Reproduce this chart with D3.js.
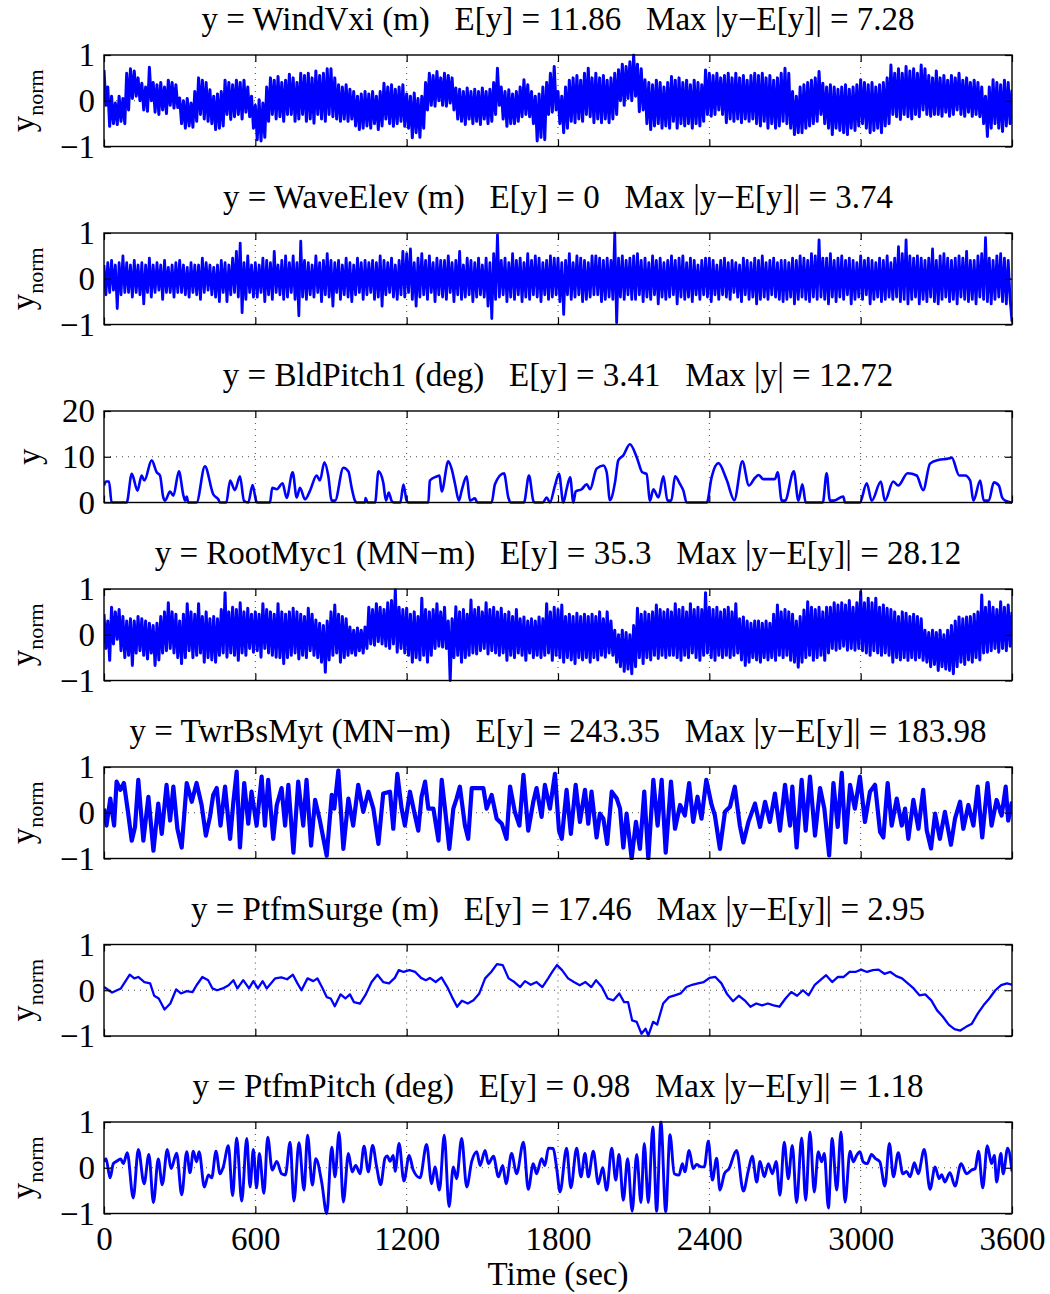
<!DOCTYPE html>
<html><head><meta charset="utf-8">
<script src="https://cdn.jsdelivr.net/npm/d3@7"></script>
<style>
body{margin:0;background:#fff}
svg{display:block}
text{font-family:"Liberation Serif","Times New Roman",serif;fill:#000}
</style>
</head><body>
<svg id="c" width="1050" height="1294"></svg>
<script>
// ---------------- DATA ----------------
const xTicks = [0, 600, 1200, 1800, 2400, 3000, 3600];
const normTicks = [-1, 0, 1];
const bldTicks = [0, 10, 20];
const titles = [
  "y = WindVxi (m)   E[y] = 11.86   Max |y\u2212E[y]| = 7.28",
  "y = WaveElev (m)   E[y] = 0   Max |y\u2212E[y]| = 3.74",
  "y = BldPitch1 (deg)   E[y] = 3.41   Max |y| = 12.72",
  "y = RootMyc1 (MN\u2212m)   E[y] = 35.3   Max |y\u2212E[y]| = 28.12",
  "y = TwrBsMyt (MN\u2212m)   E[y] = 243.35   Max |y\u2212E[y]| = 183.98",
  "y = PtfmSurge (m)   E[y] = 17.46   Max |y\u2212E[y]| = 2.95",
  "y = PtfmPitch (deg)   E[y] = 0.98   Max |y\u2212E[y]| = 1.18"
];
const xLabel = "Time (sec)";

// WindVxi, normalised, sampled every 7.5 s (0..3600): alternating local high / low
const windV = [
0.67,-0.1,0.3,-0.56,0.1,-0.5,-0.05,-0.52,0.1,-0.45,0.05,-0.5,0.6,-0.2,0.7,0.05,0.65,0.1,0.5,0.0,
0.38,-0.2,0.3,-0.23,0.73,0.0,0.4,-0.25,0.35,-0.3,0.4,-0.2,0.3,-0.28,0.45,-0.1,0.4,-0.16,0.35,-0.15,
0.06,-0.5,0.0,-0.6,0.05,-0.55,-0.05,-0.58,0.2,-0.45,0.5,-0.3,0.45,-0.4,0.4,-0.45,0.24,-0.5,0.1,-0.63,
0.15,-0.6,0.2,-0.55,0.45,-0.3,0.4,-0.41,0.35,-0.35,0.45,-0.3,0.4,-0.4,0.45,-0.25,0.3,-0.35,0.1,-0.6,
-0.1,-0.85,0.02,-0.88,-0.05,-0.8,0.3,-0.45,0.5,-0.3,0.45,-0.4,0.53,-0.35,0.4,-0.45,0.45,-0.3,0.58,-0.3,
0.5,-0.45,0.4,-0.4,0.6,-0.3,0.55,-0.45,0.6,-0.4,0.5,-0.49,0.65,-0.3,0.55,-0.4,0.6,-0.45,0.7,-0.3,
0.7,-0.35,0.5,-0.4,0.35,-0.45,0.3,-0.4,0.35,-0.45,0.25,-0.4,0.2,-0.55,0.1,-0.63,0.15,-0.6,0.2,-0.55,
0.15,-0.6,0.2,-0.5,0.1,-0.63,0.2,-0.55,0.38,-0.4,0.3,-0.5,0.35,-0.56,0.25,-0.5,0.3,-0.45,0.35,-0.56,
0.15,-0.6,0.1,-0.81,0.17,-0.7,0.05,-0.8,0.1,-0.6,0.4,-0.2,0.6,-0.1,0.55,-0.12,0.64,0.0,0.5,-0.1,
0.6,-0.12,0.55,-0.05,0.5,-0.2,0.28,-0.4,0.25,-0.45,0.2,-0.52,0.28,-0.4,0.2,-0.5,0.25,-0.45,0.2,-0.52,
0.28,-0.4,0.2,-0.5,0.25,-0.45,0.4,-0.3,0.71,-0.1,0.3,-0.4,0.2,-0.56,0.24,-0.5,0.15,-0.5,0.2,-0.45,
0.3,-0.35,0.46,-0.3,0.35,-0.35,0.2,-0.5,0.1,-0.88,0.15,-0.8,0.3,-0.85,0.4,-0.3,0.6,-0.25,0.75,-0.2,
0.2,-0.5,0.1,-0.7,0.3,-0.6,0.45,-0.45,0.5,-0.48,0.55,-0.4,0.45,-0.45,0.6,-0.3,0.71,-0.35,0.5,-0.48,
0.6,-0.4,0.5,-0.48,0.55,-0.4,0.45,-0.48,0.5,-0.4,0.6,-0.3,0.68,0.0,0.8,-0.1,0.75,0.05,0.85,0.0,
1.0,0.1,0.8,-0.24,0.7,-0.2,0.46,-0.5,0.4,-0.63,0.35,-0.55,0.45,-0.5,0.4,-0.6,0.3,-0.55,0.4,-0.6,
0.53,-0.45,0.45,-0.6,0.5,-0.5,0.4,-0.55,0.45,-0.5,0.35,-0.6,0.45,-0.5,0.4,-0.55,0.35,-0.45,0.67,-0.3,
0.6,-0.34,0.55,-0.3,0.6,-0.2,0.5,-0.3,0.55,-0.48,0.6,-0.4,0.5,-0.45,0.6,-0.4,0.5,-0.48,0.55,-0.4,
0.45,-0.45,0.55,-0.4,0.6,-0.5,0.55,-0.55,0.6,-0.45,0.5,-0.6,0.55,-0.5,0.45,-0.6,0.5,-0.55,0.6,-0.45,
0.71,-0.5,0.6,-0.6,0.2,-0.74,0.1,-0.7,0.3,-0.7,0.35,-0.6,0.4,-0.55,0.45,-0.5,0.5,-0.45,0.64,-0.3,
0.38,-0.5,0.3,-0.6,0.35,-0.74,0.3,-0.6,0.25,-0.65,0.3,-0.7,0.35,-0.74,0.25,-0.6,0.3,-0.65,0.35,-0.55,
0.46,-0.5,0.4,-0.6,0.35,-0.7,0.4,-0.65,0.3,-0.6,0.35,-0.7,0.4,-0.55,0.5,-0.5,0.78,-0.3,0.6,-0.35,
0.7,-0.41,0.6,-0.3,0.75,-0.35,0.65,-0.4,0.7,-0.3,0.6,-0.35,0.78,-0.2,0.7,-0.3,0.55,-0.34,0.5,-0.3,
0.65,-0.3,0.5,-0.34,0.55,-0.25,0.45,-0.34,0.55,-0.3,0.5,-0.2,0.6,-0.3,0.45,-0.34,0.5,-0.25,0.4,-0.34,
0.45,-0.3,0.4,-0.35,0.3,-0.5,0.1,-0.78,0.3,-0.6,0.46,-0.5,0.4,-0.6,0.35,-0.67,0.45,-0.55,0.4,-0.5,
0.24];

// WaveElev, normalised, sampled every 7.5 s
const waveV = [
0.3,-0.35,0.35,-0.3,0.4,-0.25,0.3,-0.65,0.35,-0.35,0.5,-0.3,0.35,-0.3,0.3,-0.4,0.4,-0.3,0.3,-0.35,
0.35,-0.55,0.3,-0.3,0.45,-0.4,0.3,-0.3,0.35,-0.25,0.3,-0.45,0.4,-0.3,0.25,-0.3,0.3,-0.4,0.35,-0.3,
0.4,-0.3,0.3,-0.35,0.25,-0.4,0.35,-0.3,0.3,-0.35,0.3,-0.45,0.45,-0.3,0.35,-0.25,0.3,-0.35,0.25,-0.4,
0.3,-0.5,0.4,-0.3,0.35,-0.5,0.3,-0.35,0.45,-0.3,0.6,-0.4,0.78,-0.74,0.35,-0.45,0.5,-0.3,0.3,-0.4,
0.35,-0.4,0.3,-0.3,0.45,-0.5,0.4,-0.35,0.35,-0.45,0.6,-0.3,0.3,-0.35,0.4,-0.45,0.5,-0.4,0.35,-0.3,
0.5,-0.45,0.35,-0.81,0.82,-0.4,0.4,-0.45,0.35,-0.35,0.3,-0.4,0.5,-0.3,0.35,-0.5,0.4,-0.35,0.55,-0.4,
0.4,-0.6,0.35,-0.3,0.4,-0.45,0.3,-0.35,0.45,-0.4,0.35,-0.5,0.3,-0.35,0.45,-0.3,0.35,-0.45,0.4,-0.35,
0.35,-0.3,0.4,-0.45,0.35,-0.4,0.5,-0.6,0.4,-0.35,0.35,-0.3,0.45,-0.4,0.3,-0.45,0.4,-0.35,0.6,-0.4,
0.55,-0.3,0.65,-0.45,0.35,-0.6,0.45,-0.4,0.55,-0.35,0.4,-0.45,0.5,-0.3,0.35,-0.5,0.45,-0.35,0.4,-0.4,
0.4,-0.45,0.5,-0.3,0.35,-0.5,0.4,-0.35,0.6,-0.45,0.3,-0.4,0.45,-0.35,0.4,-0.5,0.35,-0.4,0.45,-0.35,
0.3,-0.4,0.45,-0.6,0.35,-0.87,0.55,-0.45,0.96,-0.4,0.4,-0.35,0.45,-0.5,0.35,-0.4,0.55,-0.45,0.4,-0.35,
0.45,-0.5,0.35,-0.4,0.55,-0.45,0.4,-0.35,0.5,-0.4,0.45,-0.5,0.35,-0.35,0.4,-0.45,0.5,-0.4,0.45,-0.35,
0.45,-0.5,0.35,-0.78,0.4,-0.35,0.55,-0.45,0.35,-0.4,0.5,-0.35,0.45,-0.5,0.4,-0.45,0.35,-0.4,0.5,-0.35,
0.5,-0.35,0.45,-0.5,0.4,-0.45,0.45,-0.4,0.4,-0.45,1.0,-0.96,0.45,-0.4,0.5,-0.45,0.4,-0.35,0.45,-0.45,
0.5,-0.45,0.55,-0.35,0.4,-0.5,0.45,-0.4,0.35,-0.45,0.5,-0.35,0.4,-0.55,0.45,-0.4,0.35,-0.45,0.4,-0.4,
0.5,-0.35,0.4,-0.55,0.45,-0.4,0.5,-0.45,0.35,-0.4,0.45,-0.5,0.4,-0.35,0.3,-0.45,0.4,-0.35,0.45,-0.4,
0.45,-0.5,0.4,-0.35,0.3,-0.45,0.4,-0.35,0.45,-0.4,0.35,-0.45,0.4,-0.3,0.35,-0.4,0.3,-0.5,0.45,-0.35,
0.4,-0.45,0.35,-0.4,0.45,-0.55,0.4,-0.45,0.5,-0.4,0.35,-0.45,0.4,-0.35,0.45,-0.4,0.35,-0.45,0.4,-0.5,
0.4,-0.45,0.35,-0.4,0.45,-0.55,0.4,-0.45,0.5,-0.4,0.45,-0.45,0.4,-0.5,0.55,-0.4,0.5,-0.45,0.85,-0.4,
0.45,-0.45,0.45,-0.55,0.55,-0.4,0.4,-0.5,0.45,-0.4,0.5,-0.45,0.4,-0.35,0.45,-0.55,0.4,-0.45,0.35,-0.4,
0.5,-0.45,0.4,-0.35,0.45,-0.55,0.4,-0.45,0.35,-0.4,0.45,-0.5,0.4,-0.45,0.5,-0.4,0.35,-0.45,0.45,-0.4,
0.7,-0.5,0.55,-0.45,0.85,-0.55,0.5,-0.45,0.45,-0.4,0.5,-0.55,0.45,-0.45,0.4,-0.5,0.45,-0.4,0.65,-0.5,
0.4,-0.55,0.5,-0.45,0.55,-0.4,0.45,-0.5,0.4,-0.45,0.45,-0.55,0.5,-0.4,0.45,-0.45,0.6,-0.5,0.4,-0.45,
0.4,-0.55,0.5,-0.4,0.55,-0.45,0.9,-0.5,0.45,-0.55,0.4,-0.45,0.5,-0.4,0.55,-0.5,0.45,-0.55,0.4,-0.45,
-0.94];

// BldPitch1 (deg), time / value pairs
const bldT = [0,8,20,30,90,110,133,149,160,189,209,222,235,242,262,275,297,315,322,328,334,367,400,433,453,460,485,500,519,539,555,572,589,603,608,658,667,685,708,724,748,764,777,797,817,843,856,874,889,903,916,949,969,982,995,1002,1035,1037,1045,1075,1088,1107,1118,1129,1140,1150,1175,1187,1200,1207,1286,1292,1319,1330,1339,1365,1378,1392,1407,1418,1438,1451,1471,1480,1537,1550,1586,1603,1612,1665,1685,1702,1708,1740,1755,1768,1788,1804,1821,1834,1848,1861,1870,1894,1914,1927,1953,1980,1993,2006,2026,2039,2059,2085,2112,2134,2151,2165,2178,2198,2218,2234,2249,2264,2284,2297,2310,2390,2409,2436,2469,2499,2531,2557,2581,2596,2614,2633,2660,2671,2687,2700,2735,2753,2769,2782,2850,2865,2878,2892,2931,2938,2997,3024,3044,3080,3096,3129,3149,3186,3222,3248,3275,3308,3348,3361,3391,3414,3434,3447,3474,3488,3508,3528,3548,3561,3574,3600];
const bldV = [3.7,4.6,4.6,0,0,6.25,2.6,5.9,4.8,9.2,6.6,5.9,1.1,0.4,2.4,1.5,6.8,1.5,0.4,1.3,0,0,7.9,1.8,0.7,0,0,4.8,2.7,5.7,0.4,0,3.8,0.4,0,0,3.2,2.9,4.2,1.0,6.6,1.1,3.2,0.7,2.6,5.9,4.8,8.8,5.9,0.4,0.4,7.6,6.8,3.2,0.4,0,0,1.0,0,0,6.8,4.4,0.4,2.2,0.4,0,0,3.9,0.4,0,0,4.8,5.7,5.9,2.4,9.0,7.4,4.0,0.4,2.6,5.7,0.4,0.9,0,0,4.0,6.4,1.1,0,0,5.9,0.4,0,0,1.1,0,3.7,6.25,0,2.9,5.5,0,2.4,2.9,4.0,2.9,7.4,8.1,6.6,0.5,4.4,9.2,10.3,12.72,9.9,6.6,6.25,0.4,2.9,1.1,5.7,0.4,0.4,5.7,4.0,2.6,0,0,5.5,8.6,4.9,0.5,9.0,3.7,5.4,6.0,5.1,5.1,5.1,6.6,0.4,0.4,6.8,0.4,4.0,0,0,6.4,0.4,0.4,1.3,0,0,4.2,0.4,4.6,0.4,4.6,3.7,6.4,5.9,2.7,8.5,9.3,9.6,9.8,5.9,5.9,4.8,0.4,4.8,0.4,0.4,4.4,3.7,1.1,0.4,0];

// RootMyc1, normalised, sampled every 7.5 s
const rootV = [
0.45,-0.3,0.3,-0.56,0.6,-0.2,0.5,-0.1,0.55,-0.35,0.4,-0.5,0.3,-0.45,0.35,-0.67,0.3,-0.4,0.4,-0.35,
0.35,-0.45,0.3,-0.53,0.25,-0.4,0.2,-0.67,0.25,-0.55,0.4,-0.4,0.5,-0.35,0.7,-0.3,0.5,-0.4,0.45,-0.5,
0.3,-0.63,0.45,-0.5,0.68,-0.35,0.5,-0.5,0.45,-0.45,0.68,-0.4,0.4,-0.6,0.5,-0.5,0.35,-0.55,0.4,-0.6,
0.35,-0.45,0.55,-0.4,0.92,-0.49,0.5,-0.4,0.6,-0.45,0.55,-0.56,0.7,-0.4,0.5,-0.45,0.58,-0.3,0.45,-0.38,
0.5,-0.35,0.45,-0.49,0.68,-0.3,0.55,-0.4,0.5,-0.45,0.45,-0.49,0.68,-0.5,0.5,-0.63,0.45,-0.5,0.5,-0.45,
0.58,-0.4,0.5,-0.53,0.45,-0.45,0.4,-0.5,0.58,-0.35,0.45,-0.45,0.32,-0.5,0.25,-0.6,0.2,-0.82,0.3,-0.55,
0.5,-0.45,0.65,-0.4,0.45,-0.6,0.4,-0.5,0.35,-0.45,0.17,-0.4,0.1,-0.45,0.15,-0.35,0.1,-0.4,0.17,-0.3,
0.6,-0.2,0.55,-0.23,0.68,-0.15,0.6,-0.2,0.55,-0.25,0.7,-0.3,0.75,-0.2,0.98,-0.38,0.6,-0.3,0.55,-0.4,
0.58,-0.45,0.45,-0.6,0.5,-0.5,0.4,-0.55,0.8,-0.45,0.55,-0.6,0.5,-0.45,0.55,-0.3,0.68,-0.25,0.5,-0.27,
0.6,-0.3,0.3,-1.0,0.35,-0.5,0.61,-0.45,0.5,-0.6,0.55,-0.5,0.45,-0.45,0.76,-0.4,0.55,-0.42,0.6,-0.35,
0.5,-0.3,0.7,-0.42,0.55,-0.35,0.6,-0.4,0.5,-0.45,0.58,-0.4,0.45,-0.56,0.5,-0.45,0.4,-0.5,0.55,-0.4,
0.35,-0.45,0.39,-0.56,0.3,-0.4,0.35,-0.5,0.3,-0.45,0.39,-0.5,0.35,-0.45,0.68,-0.4,0.5,-0.56,0.6,-0.45,
0.55,-0.5,0.65,-0.6,0.4,-0.5,0.45,-0.55,0.4,-0.63,0.47,-0.5,0.4,-0.55,0.45,-0.5,0.4,-0.6,0.45,-0.5,
0.4,-0.55,0.5,-0.45,0.35,-0.49,0.5,-0.4,0.3,-0.45,0.1,-0.6,0.0,-0.7,0.1,-0.8,0.05,-0.75,0.0,-0.85,
0.2,-0.7,0.58,-0.5,0.45,-0.63,0.5,-0.5,0.45,-0.55,0.5,-0.45,0.65,-0.52,0.55,-0.45,0.5,-0.5,0.55,-0.45,
0.5,-0.45,0.68,-0.5,0.55,-0.56,0.6,-0.45,0.5,-0.5,0.68,-0.4,0.55,-0.5,0.6,-0.56,0.55,-0.45,0.92,-0.4,
0.6,-0.5,0.55,-0.56,0.6,-0.45,0.5,-0.5,0.55,-0.45,0.6,-0.5,0.5,-0.45,0.68,-0.4,0.35,-0.55,0.39,-0.67,
0.3,-0.6,0.25,-0.5,0.3,-0.55,0.3,-0.6,0.25,-0.5,0.3,-0.55,0.25,-0.5,0.45,-0.56,0.65,-0.45,0.5,-0.5,
0.55,-0.45,0.5,-0.56,0.45,-0.6,0.3,-0.71,0.4,-0.6,0.54,-0.5,0.72,-0.45,0.6,-0.56,0.55,-0.5,0.6,-0.45,
0.5,-0.56,0.6,-0.4,0.6,-0.3,0.7,-0.34,0.65,-0.3,0.7,-0.25,0.65,-0.34,0.75,-0.3,0.6,-0.34,0.7,-0.3,
0.94,-0.35,0.7,-0.4,0.8,-0.45,0.7,-0.35,0.8,-0.4,0.6,-0.45,0.65,-0.4,0.58,-0.45,0.55,-0.6,0.5,-0.5,
0.4,-0.55,0.5,-0.5,0.47,-0.56,0.4,-0.5,0.45,-0.55,0.4,-0.5,0.35,-0.56,0.1,-0.6,0.05,-0.7,0.1,-0.65,
0.05,-0.78,0.1,-0.7,0.0,-0.75,0.1,-0.78,0.2,-0.85,0.3,-0.7,0.39,-0.6,0.35,-0.65,0.39,-0.55,0.4,-0.6,
0.45,-0.5,0.5,-0.55,0.87,-0.4,0.6,-0.38,0.72,-0.35,0.6,-0.3,0.55,-0.38,0.72,-0.3,0.6,-0.35,0.65,-0.25,
0.5];

// TwrBsMyt, normalised, time / value pairs
const towerT = [0,10,25,40,50,65,79,96,110,123,136,156,176,196,215,229,248,262,275,291,308,328,348,367,387,404,420,433,447,462,480,500,513,526,539,556,572,585,605,625,638,651,671,685,704,718,731,751,770,790,803,821,837,856,883,903,913,929,949,969,988,1008,1028,1048,1068,1088,1107,1134,1147,1163,1180,1193,1213,1233,1246,1259,1273,1286,1306,1326,1339,1352,1369,1385,1398,1411,1431,1444,1458,1478,1504,1517,1537,1557,1577,1596,1610,1629,1647,1663,1682,1702,1715,1735,1748,1768,1788,1804,1815,1834,1851,1870,1887,1907,1920,1933,1953,1966,1980,1995,2013,2033,2046,2059,2072,2092,2109,2125,2142,2158,2178,2195,2211,2227,2248,2264,2284,2303,2320,2336,2353,2369,2388,2409,2422,2442,2462,2482,2501,2521,2535,2555,2581,2601,2621,2640,2660,2680,2700,2720,2729,2746,2766,2782,2799,2819,2839,2856,2875,2892,2909,2925,2940,2958,2977,2997,3017,3037,3057,3077,3090,3107,3123,3143,3163,3176,3189,3209,3229,3248,3262,3279,3295,3314,3334,3358,3374,3394,3407,3427,3447,3464,3482,3503,3519,3539,3559,3575,3585,3600];
const towerV = [0.09,-0.28,0.31,-0.28,0.68,0.5,0.65,-0.02,-0.61,-0.31,0.72,-0.61,0.35,-0.83,0.2,-0.46,0.61,-0.17,0.57,-0.35,-0.76,0.65,0.24,0.65,0.17,-0.5,-0.09,0.39,0.54,-0.28,0.57,-0.57,0.24,0.9,-0.76,0.65,-0.24,0.46,-0.28,0.79,-0.28,0.72,-0.57,0.17,0.54,-0.28,0.61,-0.87,0.68,-0.28,0.72,-0.72,0.28,-0.17,-0.94,0.39,0.09,0.92,-0.79,0.31,-0.28,0.61,0.02,0.46,0.09,-0.68,0.42,0.46,-0.35,0.85,0.09,-0.28,0.46,-0.06,-0.39,0.35,0.68,0.09,0.09,-0.61,0.72,0.09,-0.79,0.09,0.31,0.57,-0.28,-0.57,0.54,0.54,0.54,0.09,0.39,-0.13,-0.24,-0.57,0.57,0.02,-0.28,0.83,-0.39,0.24,0.54,-0.09,0.61,0.09,0.85,-0.39,-0.57,0.5,-0.46,0.61,-0.2,0.5,-0.24,0.46,-0.54,-0.02,-0.13,-0.68,0.46,0.31,0.09,-0.76,-0.02,-1.0,-0.2,-0.79,0.46,-1.0,0.72,-0.28,0.72,-0.87,0.68,-0.35,0.17,-0.06,0.65,-0.2,0.35,-0.13,0.72,0.17,-0.06,-0.79,0.02,0.13,0.57,-0.28,-0.65,-0.2,0.2,-0.31,0.24,-0.2,0.42,-0.39,0.61,-0.28,0.57,-0.76,0.72,-0.39,0.79,-0.5,0.54,0.09,-0.93,0.65,-0.31,0.87,-0.65,0.61,0.09,0.79,-0.2,0.46,0.61,-0.42,-0.54,0.65,-0.28,0.31,-0.28,0.09,-0.57,0.28,-0.35,0.5,-0.39,-0.78,-0.02,-0.57,0.02,-0.7,-0.13,0.24,-0.35,0.17,-0.28,0.57,-0.54,0.65,-0.28,0.28,-0.06,0.57,-0.17,0.24];

// PtfmSurge, normalised, time / value pairs
const surgeT = [0,32,67,102,120,136,160,183,199,217,240,263,286,305,328,351,367,390,413,430,448,471,494,513,529,552,575,592,610,629,645,679,703,726,749,767,783,807,830,846,864,883,899,915,938,957,975,991,1015,1038,1061,1084,1107,1130,1153,1169,1188,1211,1234,1257,1276,1292,1315,1338,1361,1380,1400,1419,1442,1465,1488,1511,1535,1558,1581,1604,1627,1650,1669,1692,1715,1738,1761,1777,1796,1816,1840,1863,1886,1909,1932,1951,1974,1997,2020,2043,2062,2078,2094,2112,2131,2147,2158,2177,2193,2217,2240,2263,2286,2309,2332,2355,2378,2401,2424,2448,2471,2494,2517,2540,2563,2586,2609,2632,2655,2678,2702,2725,2748,2771,2794,2817,2840,2863,2887,2910,2933,2956,2979,3002,3025,3048,3071,3094,3118,3141,3164,3187,3210,3233,3256,3280,3303,3326,3349,3372,3395,3418,3441,3464,3487,3510,3534,3557,3580,3600];
const surgeV = [0.07,-0.05,0.04,0.34,0.26,0.29,0.18,0.15,-0.12,-0.18,-0.42,-0.29,0.02,-0.07,-0.02,-0.04,0.11,0.29,0.22,0.04,0.0,0.04,0.11,0.22,0.04,0.22,0.04,0.2,0.04,0.2,0.04,0.26,0.28,0.24,0.34,0.15,0.0,0.26,0.2,0.26,0.07,-0.15,-0.18,-0.35,-0.09,-0.18,-0.09,-0.26,-0.29,-0.09,0.18,0.34,0.18,0.15,0.27,0.44,0.4,0.44,0.4,0.27,0.22,0.27,0.18,0.28,0.07,-0.15,-0.36,-0.23,-0.29,-0.22,-0.07,0.26,0.4,0.57,0.55,0.26,0.18,0.07,0.2,0.12,0.18,0.07,0.26,0.4,0.55,0.44,0.26,0.18,0.11,0.18,0.07,0.22,0.07,-0.18,-0.22,-0.07,-0.26,-0.26,-0.66,-0.69,-0.95,-0.84,-0.99,-0.69,-0.75,-0.29,-0.15,-0.11,-0.07,0.07,0.12,0.15,0.18,0.27,0.29,0.15,-0.09,-0.24,-0.12,-0.22,-0.36,-0.29,-0.33,-0.29,-0.33,-0.36,-0.18,-0.04,-0.12,0.0,-0.11,0.11,0.22,0.33,0.18,0.29,0.29,0.4,0.4,0.45,0.4,0.44,0.45,0.36,0.4,0.31,0.26,0.15,0.04,-0.11,-0.09,-0.22,-0.44,-0.58,-0.75,-0.85,-0.88,-0.8,-0.73,-0.51,-0.33,-0.18,0.0,0.11,0.15,0.12];

// PtfmPitch, normalised, time / value pairs
const pitchT = [0,8,24,37,50,66,77,92,116,136,159,178,196,215,231,251,266,288,308,328,341,354,367,377,398,414,427,444,460,473,493,510,526,546,566,579,592,605,616,634,649,667,685,704,719,738,753,773,793,807,826,840,863,883,903,916,932,949,969,984,998,1015,1031,1048,1065,1081,1097,1114,1123,1134,1147,1154,1170,1189,1210,1226,1253,1279,1299,1312,1330,1349,1368,1385,1398,1418,1438,1458,1478,1491,1511,1524,1544,1564,1581,1594,1616,1636,1663,1682,1702,1715,1735,1748,1762,1781,1795,1808,1834,1851,1874,1891,1907,1920,1940,1960,1977,1993,2013,2029,2042,2059,2076,2094,2112,2129,2142,2158,2176,2191,2208,2227,2244,2261,2280,2293,2303,2320,2336,2349,2369,2380,2396,2412,2429,2442,2460,2478,2508,2535,2555,2570,2588,2601,2618,2634,2650,2665,2680,2697,2713,2729,2746,2766,2782,2799,2816,2832,2845,2856,2872,2887,2905,2922,2938,2958,2971,2984,2997,3010,3026,3043,3059,3076,3096,3114,3130,3149,3167,3182,3196,3213,3228,3252,3275,3295,3311,3321,3334,3354,3374,3398,3420,3440,3454,3467,3484,3502,3519,3530,3539,3556,3565,3583,3600];
const pitchV = [0.13,0.2,-0.22,0.09,0.14,0.19,0.09,0.33,-0.66,0.4,-0.35,0.29,-0.76,0.19,-0.37,0.4,-0.02,0.32,-0.59,0.35,-0.11,0.36,0.13,0.35,-0.42,-0.16,-0.22,0.36,-0.13,0.02,0.48,-0.61,0.65,-0.73,0.64,-0.42,0.4,-0.44,0.31,-0.56,0.67,-0.05,0.14,-0.13,-0.16,0.56,-0.73,0.55,-0.49,0.71,-0.38,0.2,-0.31,-1.0,0.45,-0.2,0.77,-0.75,0.31,-0.09,0.05,-0.13,0.47,-0.09,0.49,0.02,-0.37,0.21,0.26,0.14,0.27,-0.08,0.53,-0.29,0.27,-0.05,-0.22,0.51,-0.35,0.02,-0.49,0.71,-0.85,0.02,-0.24,0.64,-0.42,0.14,0.35,0.05,0.38,0.09,0.25,-0.2,0.05,-0.35,0.31,-0.13,0.56,-0.47,0.09,-0.13,0.2,0.05,0.43,0.42,-0.02,-0.53,0.43,-0.44,0.43,-0.2,0.31,-0.2,0.36,-0.35,0.0,-0.49,0.43,-0.27,0.29,-0.71,0.2,-0.95,0.29,-0.76,0.53,-0.76,0.89,-0.95,1.0,-0.96,0.72,-0.13,-0.16,0.09,-0.09,0.38,-0.02,0.07,0.02,0.02,0.58,-0.27,0.21,-0.49,-0.13,-0.02,0.38,-0.51,-0.05,0.25,-0.31,0.14,-0.2,0.09,-0.13,0.14,-0.6,0.56,-0.24,0.49,-0.76,0.65,-0.71,0.78,-0.53,0.35,0.13,0.31,-0.88,0.64,-0.49,0.78,-0.75,0.36,0.13,0.27,0.35,0.13,0.09,0.29,0.2,0.13,-0.4,0.53,-0.2,0.33,-0.13,-0.08,-0.2,0.11,-0.13,0.4,-0.47,0.02,-0.24,-0.15,-0.31,-0.11,-0.4,0.09,-0.13,-0.05,-0.02,0.36,-0.44,0.48,0.09,0.27,-0.31,0.31,-0.13,0.43,-0.08];

// ---------------- CHART ----------------
const X0 = 104, X1 = 1012, PH = 91.5;
const tops = [55, 233, 411, 589, 767, 944.5, 1122];
const FS = 33;
const x = d3.scaleLinear().domain([0, 3600]).range([X0, X1]);
const even = arr => arr.map((v, i) => [i * 3600 / (arr.length - 1), v]);
const pairs = (T, V) => T.map((t, i) => [t, V[i]]);

const panels = [
  {pts: even(windV),  dom: [-1, 1], ticks: normTicks, sub: true,  w: 3, curve: d3.curveLinear},
  {pts: even(waveV),  dom: [-1, 1], ticks: normTicks, sub: true,  w: 2.8, curve: d3.curveLinear},
  {pts: pairs(bldT, bldV), dom: [0, 20], ticks: bldTicks, sub: false, w: 2.6, curve: d3.curveMonotoneX},
  {pts: even(rootV),  dom: [-1, 1], ticks: normTicks, sub: true,  w: 3, curve: d3.curveLinear},
  {pts: pairs(towerT, towerV), dom: [-1, 1], ticks: normTicks, sub: true, w: 4.2, curve: d3.curveLinear},
  {pts: pairs(surgeT, surgeV), dom: [-1, 1], ticks: normTicks, sub: true, w: 2.3, curve: d3.curveLinear},
  {pts: pairs(pitchT, pitchV), dom: [-1, 1], ticks: normTicks, sub: true, w: 2.9, curve: d3.curveMonotoneX}
];

const svg = d3.select("#c");
const fmt = d => d < 0 ? "\u2212" + Math.abs(d) : String(d);

panels.forEach((p, i) => {
  const top = tops[i], bot = top + PH;
  const y = d3.scaleLinear().domain(p.dom).range([bot, top]);
  const g = svg.append("g");

  g.selectAll("line.gx").data(xTicks.slice(1, -1)).join("line")
    .attr("x1", d => x(d)).attr("x2", d => x(d)).attr("y1", top).attr("y2", bot)
    .attr("stroke", "#333").attr("stroke-width", 0.9).attr("stroke-dasharray", "1,5");
  g.selectAll("line.gy").data(p.ticks.slice(1, -1)).join("line")
    .attr("x1", X0).attr("x2", X1).attr("y1", d => y(d)).attr("y2", d => y(d))
    .attr("stroke", "#333").attr("stroke-width", 0.9).attr("stroke-dasharray", "1,5");

  svg.append("clipPath").attr("id", "clip" + i).append("rect")
    .attr("x", X0).attr("y", top - 1.5).attr("width", X1 - X0).attr("height", PH + 3);

  const line = d3.line().x(d => x(d[0])).y(d => y(d[1])).curve(p.curve);
  g.append("path").datum(p.pts).attr("clip-path", `url(#clip${i})`)
    .attr("d", line).attr("fill", "none").attr("stroke", "#0000ff")
    .attr("stroke-width", p.w).attr("stroke-linejoin", "round");

  const axB = g.append("g").attr("transform", `translate(0,${bot})`)
    .call(d3.axisBottom(x).tickValues(xTicks).tickSize(-7).tickPadding(13)
      .tickFormat(i === panels.length - 1 ? d => String(d) : () => ""));
  const axT = g.append("g").attr("transform", `translate(0,${top})`)
    .call(d3.axisTop(x).tickValues(xTicks).tickSize(-7).tickFormat(() => ""));
  const axL = g.append("g").attr("transform", `translate(${X0},0)`)
    .call(d3.axisLeft(y).tickValues(p.ticks).tickSize(-7).tickPadding(9).tickFormat(fmt));
  const axR = g.append("g").attr("transform", `translate(${X1},0)`)
    .call(d3.axisRight(y).tickValues(p.ticks).tickSize(-7).tickFormat(() => ""));
  [axB, axT, axL, axR].forEach(a => {
    a.select(".domain").remove();
    a.selectAll(".tick line").attr("stroke", "#000").attr("stroke-width", 1.2);
    a.selectAll("text").attr("font-family", null).attr("font-size", FS).style("font-size", FS + "px")
      .attr("fill", "#000");
  });
  axL.selectAll("text").attr("dy", "0.33em");

  g.append("rect").attr("x", X0).attr("y", top).attr("width", X1 - X0).attr("height", PH)
    .attr("fill", "none").attr("stroke", "#000").attr("stroke-width", 1.4);

  g.append("text").attr("x", (X0 + X1) / 2).attr("y", top - 25)
    .attr("text-anchor", "middle").style("white-space", "pre").style("font-size", FS + "px")
    .text(titles[i]);

  const cy = (top + bot) / 2;
  const lab = g.append("text").attr("transform", `translate(${p.sub ? 34 : 40},${cy}) rotate(-90)`)
    .attr("text-anchor", "middle").style("font-size", FS + "px");
  lab.append("tspan").text("y");
  if (p.sub) lab.append("tspan").attr("dy", 9).style("font-size", "22px").text("norm");
});

svg.append("text").attr("x", (X0 + X1) / 2).attr("y", 1285)
  .attr("text-anchor", "middle").style("font-size", FS + "px").text(xLabel);
</script>
</body></html>
